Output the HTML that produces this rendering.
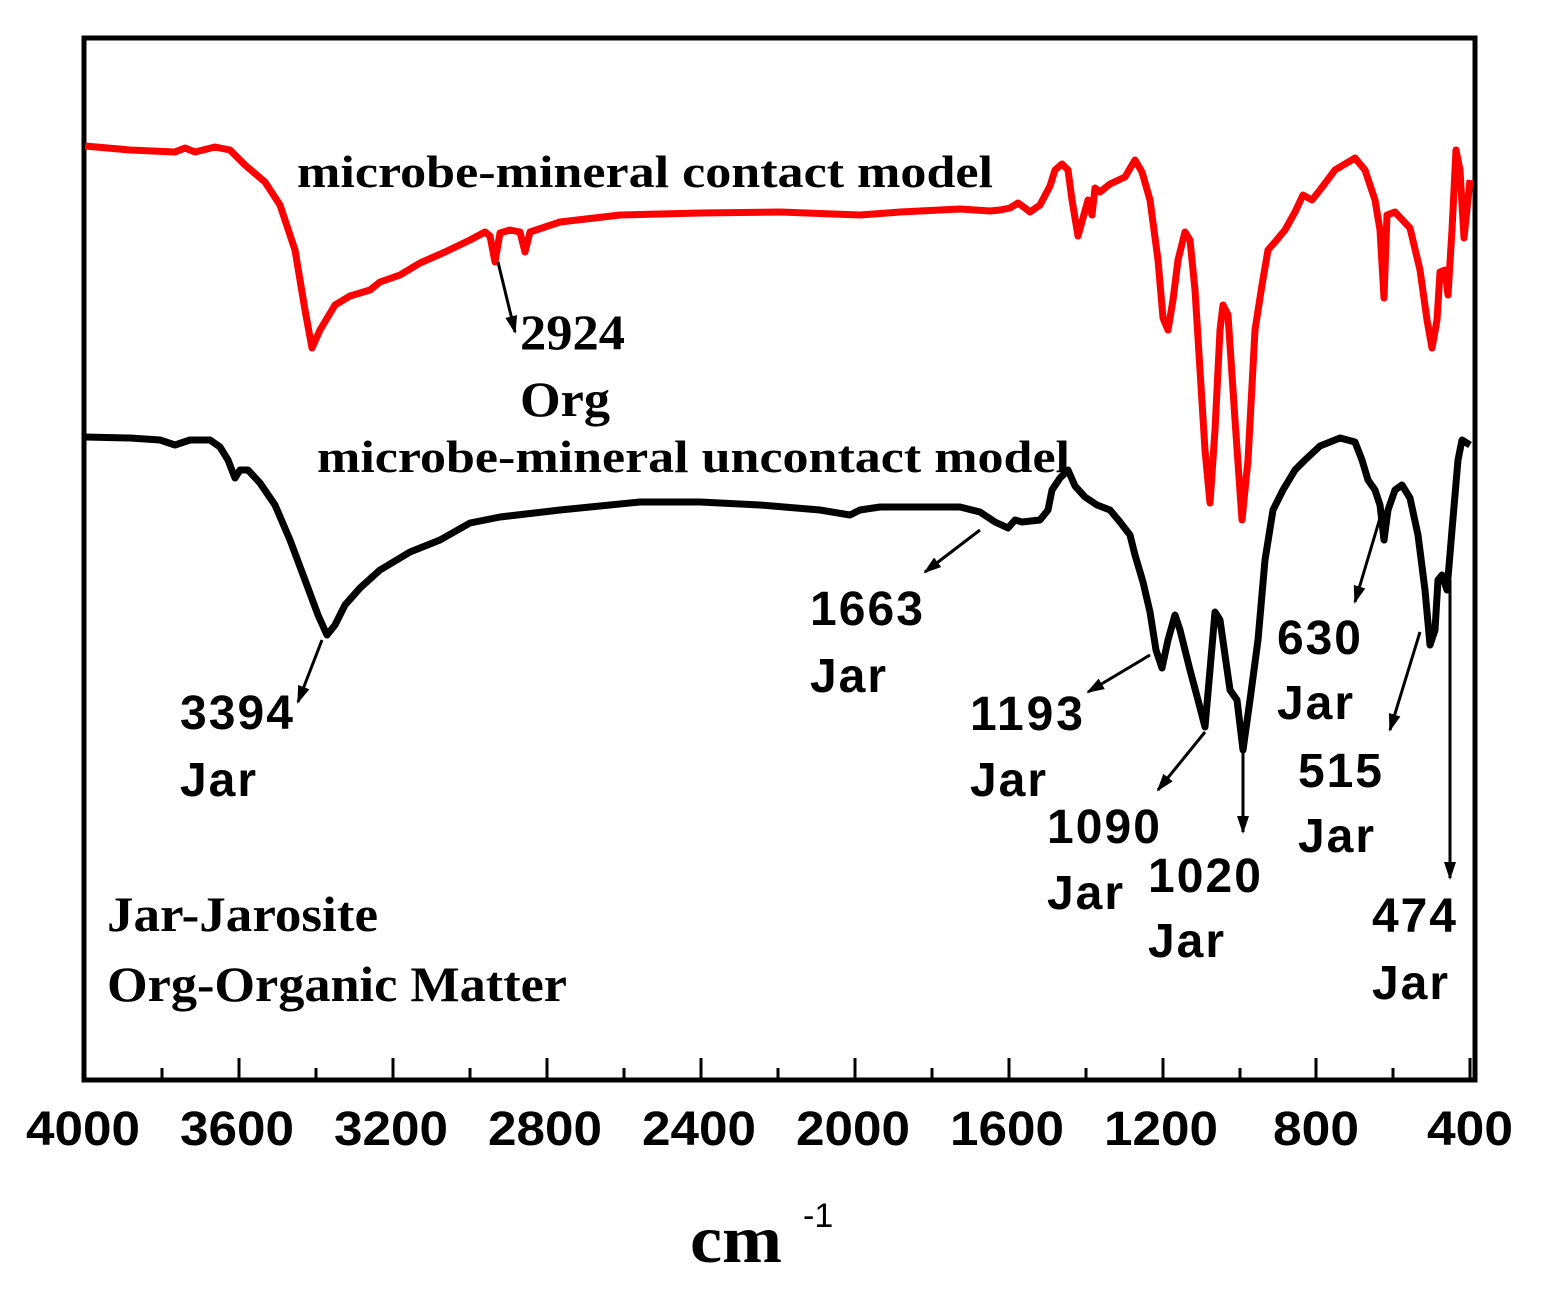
<!DOCTYPE html>
<html><head><style>body{margin:0;background:#fff}</style></head><body>
<svg width="1544" height="1291" viewBox="0 0 1544 1291" xmlns="http://www.w3.org/2000/svg">
<defs>
<marker id="ah2" markerWidth="18" markerHeight="14" refX="16" refY="7" orient="auto" markerUnits="userSpaceOnUse"><path d="M0,1 L18,7 L0,13 Z" fill="#000"/></marker></defs>
<rect x="84" y="38" width="1391" height="1042" fill="none" stroke="#000" stroke-width="5"/>
<g stroke="#000" stroke-width="3">
<path d="M85,1080v-22M239,1080v-22M393,1080v-22M547,1080v-22M701,1080v-22M855,1080v-22M1009,1080v-22M1163,1080v-22M1316,1080v-22M1470,1080v-22"/>
<path d="M162,1080v-12M316,1080v-12M470,1080v-12M624,1080v-12M778,1080v-12M932,1080v-12M1086,1080v-12M1240,1080v-12M1393,1080v-12"/>
</g>
<g font-family="Liberation Sans, sans-serif" font-weight="bold" font-size="48" text-anchor="middle">
<text x="83" y="1145" textLength="114" lengthAdjust="spacingAndGlyphs">4000</text><text x="237" y="1145" textLength="114" lengthAdjust="spacingAndGlyphs">3600</text><text x="391" y="1145" textLength="114" lengthAdjust="spacingAndGlyphs">3200</text><text x="545" y="1145" textLength="114" lengthAdjust="spacingAndGlyphs">2800</text><text x="699" y="1145" textLength="114" lengthAdjust="spacingAndGlyphs">2400</text><text x="853" y="1145" textLength="114" lengthAdjust="spacingAndGlyphs">2000</text><text x="1007" y="1145" textLength="114" lengthAdjust="spacingAndGlyphs">1600</text><text x="1161" y="1145" textLength="114" lengthAdjust="spacingAndGlyphs">1200</text><text x="1316" y="1145" textLength="86" lengthAdjust="spacingAndGlyphs">800</text><text x="1470" y="1145" textLength="86" lengthAdjust="spacingAndGlyphs">400</text>
</g>
<polyline fill="none" stroke="#f00" stroke-width="7" stroke-linejoin="round" points="85,146 130,150 175,152 185,148 195,152 215,147 230,150 245,165 265,182 280,205 295,250 305,310 312,348 320,330 335,305 350,296 370,290 380,282 400,275 420,263 445,252 470,240 485,232 490,236 495,262 500,233 510,230 520,232 525,252 530,232 560,222 620,215 700,213 780,212 860,215 900,212 960,209 990,211 1000,210 1010,208 1018,203 1025,208 1030,212 1040,205 1050,186 1055,170 1062,164 1068,170 1072,200 1078,236 1083,218 1088,200 1092,215 1095,188 1100,192 1110,184 1125,177 1135,160 1142,172 1150,200 1158,260 1163,318 1168,330 1173,300 1178,260 1185,232 1190,240 1195,290 1200,370 1205,450 1210,503 1215,430 1220,330 1223,305 1228,315 1235,420 1242,520 1248,460 1255,330 1262,285 1268,250 1275,242 1285,230 1295,212 1303,195 1312,200 1320,190 1335,170 1355,158 1365,170 1375,200 1380,230 1384,298 1387,215 1395,212 1410,228 1420,270 1427,320 1432,348 1437,320 1440,272 1445,270 1448,295 1452,230 1456,150 1460,170 1464,238 1470,180"/>
<polyline fill="none" stroke="#000" stroke-width="7" stroke-linejoin="round" points="85,437 130,438 160,440 175,445 190,440 210,440 220,447 228,460 235,478 240,470 248,470 260,483 275,505 290,540 305,580 318,615 327,635 335,625 345,605 360,588 380,570 410,552 440,540 470,523 500,517 560,510 640,502 700,502 760,505 820,510 850,515 860,510 880,507 960,507 980,512 995,522 1008,528 1015,520 1022,522 1040,520 1048,510 1052,490 1060,478 1068,470 1075,486 1085,497 1097,505 1110,510 1120,522 1130,535 1135,555 1143,582 1150,612 1156,650 1162,668 1168,640 1175,615 1180,630 1190,670 1198,700 1205,727 1210,670 1215,612 1220,620 1225,655 1230,690 1237,700 1243,750 1250,700 1258,640 1265,560 1273,510 1283,490 1295,470 1305,460 1320,446 1340,438 1355,442 1362,460 1368,480 1375,490 1380,505 1384,540 1388,510 1395,490 1402,485 1410,498 1418,535 1425,590 1430,645 1435,630 1438,580 1442,575 1447,590 1452,530 1458,460 1462,440 1470,445"/>
<g stroke="#000" stroke-width="3" marker-end="url(#ah2)">
<line x1="322" y1="640" x2="298" y2="702"/>
<line x1="498" y1="262" x2="515" y2="332"/>
<line x1="980" y1="530" x2="925" y2="572"/>
<line x1="1150" y1="655" x2="1088" y2="692"/>
<line x1="1205" y1="732" x2="1158" y2="790"/>
<line x1="1243" y1="750" x2="1243" y2="832"/>
<line x1="1380" y1="518" x2="1355" y2="602"/>
<line x1="1420" y1="632" x2="1390" y2="730"/>
<line x1="1450" y1="580" x2="1450" y2="878"/>
</g>
<g font-family="Liberation Sans, sans-serif" font-weight="bold" font-size="48" lengthAdjust="spacingAndGlyphs">
<text x="180" y="729" textLength="113">3394</text><text x="180" y="796" textLength="76">Jar</text>
<text x="810" y="625" textLength="113">1663</text><text x="810" y="692" textLength="76">Jar</text>
<text x="970" y="730" textLength="113">1193</text><text x="970" y="796" textLength="76">Jar</text>
<text x="1047" y="843" textLength="113">1090</text><text x="1047" y="909" textLength="76">Jar</text>
<text x="1148" y="892" textLength="113">1020</text><text x="1148" y="957" textLength="76">Jar</text>
<text x="1277" y="654" textLength="84">630</text><text x="1277" y="719" textLength="76">Jar</text>
<text x="1298" y="787" textLength="84">515</text><text x="1298" y="852" textLength="76">Jar</text>
<text x="1372" y="932" textLength="84">474</text><text x="1372" y="999" textLength="76">Jar</text>
</g>
<g font-family="Liberation Serif, serif" font-weight="bold" font-size="46">
<text x="297" y="187" textLength="696" lengthAdjust="spacingAndGlyphs">microbe-mineral contact model</text>
<text x="317" y="472" textLength="753" lengthAdjust="spacingAndGlyphs">microbe-mineral uncontact model</text>
<text x="520" y="349" font-size="50" textLength="105" lengthAdjust="spacingAndGlyphs">2924</text><text x="520" y="416" font-size="50" textLength="90" lengthAdjust="spacingAndGlyphs">Org</text>
<text x="107" y="931" font-size="50" textLength="271" lengthAdjust="spacingAndGlyphs">Jar-Jarosite</text>
<text x="107" y="1001" font-size="50" textLength="460" lengthAdjust="spacingAndGlyphs">Org-Organic Matter</text>
<text x="690" y="1262" font-size="68" textLength="92" lengthAdjust="spacingAndGlyphs">cm</text>
</g>
<text x="803" y="1227" font-family="Liberation Sans, sans-serif" font-size="34">-1</text>
</svg>
</body></html>
